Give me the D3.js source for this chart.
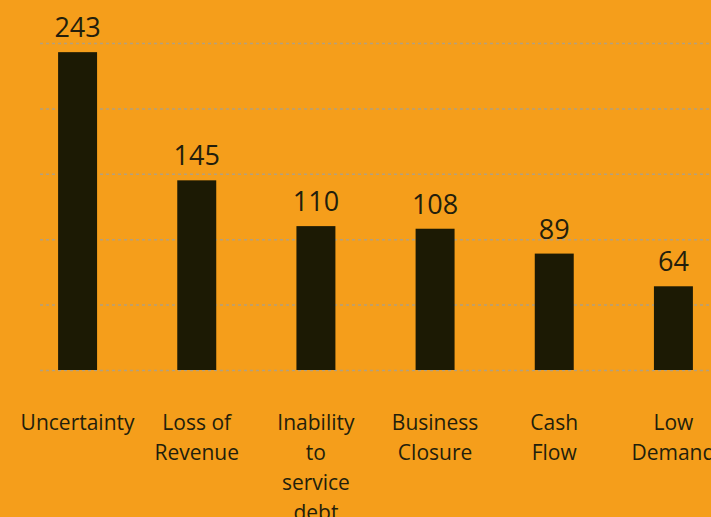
<!DOCTYPE html>
<html>
<head>
<meta charset="utf-8">
<script src="https://cdn.jsdelivr.net/npm/d3@7"></script>
<style>
  body { margin: 0; background: #F59E1B; }
  svg { display: block; }
</style>
</head>
<body>
<svg width="711" height="517"></svg>
<script>
var categories = ["Uncertainty", "Loss of Revenue", "Inability to service debt", "Business Closure", "Cash Flow", "Low Demand"];
var labelLines = [["Uncertainty"], ["Loss of", "Revenue"], ["Inability", "to", "service", "debt"], ["Business", "Closure"], ["Cash", "Flow"], ["Low", "Demand"]];
var values = [243, 145, 110, 108, 89, 64];
var yTicks = [0, 50, 100, 150, 200, 250];

var svg = d3.select("svg"),
    width = +svg.attr("width"),
    height = +svg.attr("height");

svg.append("rect")
    .attr("width", width)
    .attr("height", height)
    .attr("fill", "#F59E1B");

// scales
var x = d3.scaleBand()
    .domain(categories)
    .range([18, 733])
    .paddingInner(0.673)
    .paddingOuter(0.3365);

var y = d3.scaleLinear()
    .domain([0, 250])
    .range([370, 43]);

// dashed gridlines
svg.append("g")
    .attr("transform", "translate(40,0)")
    .call(d3.axisLeft(y).tickValues(yTicks).tickSize(-700).tickFormat(""))
    .call(function (g) { g.select(".domain").remove(); })
    .selectAll("line")
    .attr("stroke", "#B3A07E")
    .attr("stroke-width", 1.5)
    .attr("stroke-dasharray", "3,3");

// bars
svg.selectAll(".bar")
    .data(values)
    .enter()
    .append("rect")
    .attr("class", "bar")
    .attr("x", function (d, i) { return x(categories[i]); })
    .attr("y", function (d) { return y(d); })
    .attr("width", x.bandwidth())
    .attr("height", function (d) { return y(0) - y(d); })
    .attr("fill", "#1C1A04");

// value labels
svg.selectAll(".val")
    .data(values)
    .enter()
    .append("text")
    .attr("class", "val")
    .attr("x", function (d, i) { return x(categories[i]) + x.bandwidth() / 2; })
    .attr("y", function (d) { return y(d) - 15; })
    .attr("text-anchor", "middle")
    .style("font-family", "'Open Sans', sans-serif")
    .style("font-size", "27px")
    .style("fill", "#231E0C")
    .text(function (d) { return d; });

// category labels
var cat = svg.selectAll(".cat")
    .data(labelLines)
    .enter()
    .append("text")
    .attr("class", "cat")
    .attr("text-anchor", "middle")
    .style("font-family", "'Open Sans', sans-serif")
    .style("font-size", "21px")
    .style("fill", "#231E0C");

cat.selectAll("tspan")
    .data(function (d, i) { return d.map(function (s) { return { s: s, i: i }; }); })
    .enter()
    .append("tspan")
    .attr("x", function (d) { return x(categories[d.i]) + x.bandwidth() / 2; })
    .attr("y", function (d, j) { return 430 + j * 30; })
    .text(function (d) { return d.s; });
</script>
</body>
</html>
